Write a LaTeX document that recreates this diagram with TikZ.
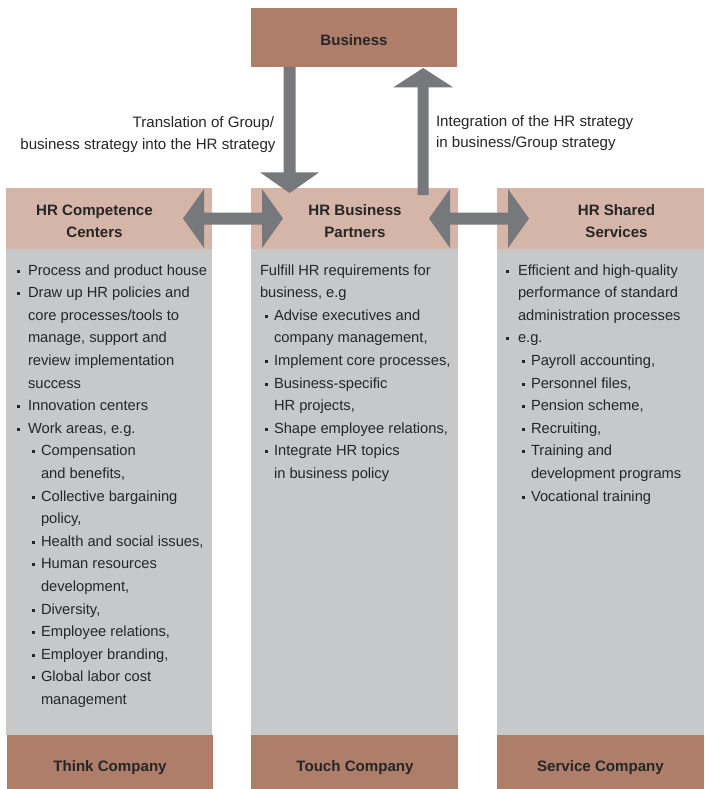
\documentclass[tikz,border=0pt]{standalone}
\usepackage{fontspec}
\setmainfont{Liberation Sans}
\usetikzlibrary{calc}
\definecolor{brn}{HTML}{AE7E6A}
\definecolor{tanc}{HTML}{D4B5A7}
\definecolor{gry}{HTML}{C7C8CA}
\definecolor{arrc}{HTML}{77787C}
\definecolor{ink}{HTML}{262626}
\newcommand\hdblarrow[2]{\fill[blk] (#1) -- ($(#1)+(21,-29.5)$) -- ($(#1)+(21,-6)$) -- ($(#2)+(-21,-6)$) -- ($(#2)+(-21,-29.5)$) -- (#2) -- ($(#2)+(-21,29.5)$) -- ($(#2)+(-21,6)$) -- ($(#1)+(21,6)$) -- ($(#1)+(21,29.5)$) -- cycle;}
\begin{document}
\begin{tikzpicture}[x=1pt,y=-1pt,
  box/.style={draw=none,inner sep=0pt,outer sep=0pt,anchor=north west},
  txt/.style={inner sep=0pt,outer sep=0pt,anchor=base west,text=ink,font=\fontsize{14.7}{22.6}\selectfont},
  ttl/.style={inner sep=0pt,outer sep=0pt,anchor=base,text=ink,font=\fontsize{15.1}{22.6}\selectfont\bfseries},
  lbl/.style={inner sep=0pt,outer sep=0pt,text=ink,font=\fontsize{15.1}{22.6}\selectfont},
  bul/.style={fill=ink},
  blk/.style={fill=arrc}]
\useasboundingbox (0,0) rectangle (704,789);
\fill[white] (0,0) rectangle (704,789);

% boxes
\node[box,fill=brn,minimum width=206pt,minimum height=59pt] (biz) at (251,8) {};
\node[box,fill=tanc,minimum width=206pt,minimum height=61pt] (hL) at (6,188) {};
\node[box,fill=tanc,minimum width=207pt,minimum height=61pt] (hB) at (251,188) {};
\node[box,fill=tanc,minimum width=207pt,minimum height=61pt] (hR) at (497,188) {};
\node[box,fill=gry,minimum width=206pt,minimum height=486pt] (bL) at (6,249) {};
\node[box,fill=gry,minimum width=207pt,minimum height=486pt] (bB) at (251,249) {};
\node[box,fill=gry,minimum width=207pt,minimum height=486pt] (bR) at (497,249) {};
\node[box,fill=brn,minimum width=206pt,minimum height=54pt] (fL) at (7,735) {};
\node[box,fill=brn,minimum width=207pt,minimum height=54pt] (fB) at (251,735) {};
\node[box,fill=brn,minimum width=207pt,minimum height=54pt] (fR) at (497,735) {};

% arrows
\coordinate (dA) at ($(biz.south west)+(38.6,0)$);
\coordinate (dB) at ($(hB.north west)+(38.6,5)$);
\fill[blk] ($(dA)+(-6,0)$) -- ($(dA)+(6,0)$) -- ($(dB)+(6,-20.7)$) -- ($(dB)+(29.6,-20.7)$) -- (dB) -- ($(dB)+(-29.6,-20.7)$) -- ($(dB)+(-6,-20.7)$) -- cycle;
\coordinate (uA) at ($(hB.north west)+(172.2,7)$);
\coordinate (uB) at ($(biz.south west)+(172.2,1)$);
\fill[blk] ($(uA)+(-5.5,0)$) -- ($(uB)+(-5.5,19.3)$) -- ($(uB)+(-29.8,19.3)$) -- (uB) -- ($(uB)+(29.8,19.3)$) -- ($(uB)+(5.5,19.3)$) -- ($(uA)+(5.5,0)$) -- cycle;
\coordinate (lA) at ($(hL.north east)+(-29,30.5)$);
\coordinate (lB) at ($(hB.north west)+(32,30.5)$);
\hdblarrow{lA}{lB}
\coordinate (rA) at ($(hB.north east)+(-29,30.5)$);
\coordinate (rB) at ($(hR.north west)+(32,30.5)$);
\hdblarrow{rA}{rB}

% titles
\node[ttl] (tbiz) at (354,45.5) {Business};
\node[ttl] (tL1) at (94.5,215) {HR Competence};
\node[ttl] (tL2) at (94.5,237.5) {Centers};
\node[ttl] (tB1) at (355,215) {HR Business};
\node[ttl] (tB2) at (355,237.5) {Partners};
\node[ttl] (tR1) at (616.5,215) {HR Shared};
\node[ttl] (tR2) at (616.5,237.5) {Services};
\node[ttl] (fLt) at (110,771) {Think Company};
\node[ttl] (fBt) at (355,771) {Touch Company};
\node[ttl] (fRt) at (600.5,771) {Service Company};

% arrow labels
\node[lbl,anchor=base east] (la1) at (274,128) {Translation of Group/};
\node[lbl,anchor=base east] (la2) at (275.5,149.5) {business strategy into the HR strategy};
\node[lbl,anchor=base west] (ra1) at (436,126) {Integration of the HR strategy};
\node[lbl,anchor=base west] (ra2) at (436,147.5) {in business/Group strategy};

% body lines
\foreach \tx/\bx/\t [count=\i from 0] in {
 28/18.5/{Process and product house},
 28/18.5/{Draw up HR policies and},
 28/0/{core processes/tools to},
 28/0/{manage, support and},
 28/0/{review implementation},
 28/0/{success},
 28/18.5/{Innovation centers},
 28/18.5/{Work areas, e.g.},
 41/33.5/{Compensation},
 41/0/{and benefits,},
 41/33.5/{Collective bargaining},
 41/0/{policy,},
 41/33.5/{Health and social issues,},
 41/33.5/{Human resources},
 41/0/{development,},
 41/33.5/{Diversity,},
 41/33.5/{Employee relations,},
 41/33.5/{Employer branding,},
 41/33.5/{Global labor cost},
 41/0/{management}}{
  \node[txt] (L\i) at (\tx,{275+22.6*\i}) {\t};
  \ifdim\bx pt>0pt \fill[bul] ({\bx-1.5},{275+22.6*\i-5.5}) rectangle ++(3,3); \fi
}
\foreach \tx/\bx/\t [count=\i from 0] in {
 260/0/{Fulfill HR requirements for},
 260/0/{business, e.g},
 274/266/{Advise executives and},
 274/0/{company management,},
 274/266/{Implement core processes,},
 274/266/{Business-specific},
 274/0/{HR projects,},
 274/266/{Shape employee relations,},
 274/266/{Integrate HR topics},
 274/0/{in business policy}}{
  \node[txt] (M\i) at (\tx,{275+22.6*\i}) {\t};
  \ifdim\bx pt>0pt \fill[bul] ({\bx-1.5},{275+22.6*\i-5.5}) rectangle ++(3,3); \fi
}
\foreach \tx/\bx/\t [count=\i from 0] in {
 518/507.5/{Efficient and high-quality},
 518/0/{performance of standard},
 518/0/{administration processes},
 518/507.5/{e.g.},
 531/523/{Payroll accounting,},
 531/523/{Personnel files,},
 531/523/{Pension scheme,},
 531/523/{Recruiting,},
 531/523/{Training and},
 531/0/{development programs},
 531/523/{Vocational training}}{
  \node[txt] (R\i) at (\tx,{275+22.6*\i}) {\t};
  \ifdim\bx pt>0pt \fill[bul] ({\bx-1.5},{275+22.6*\i-5.5}) rectangle ++(3,3); \fi
}
\end{tikzpicture}
\end{document}
